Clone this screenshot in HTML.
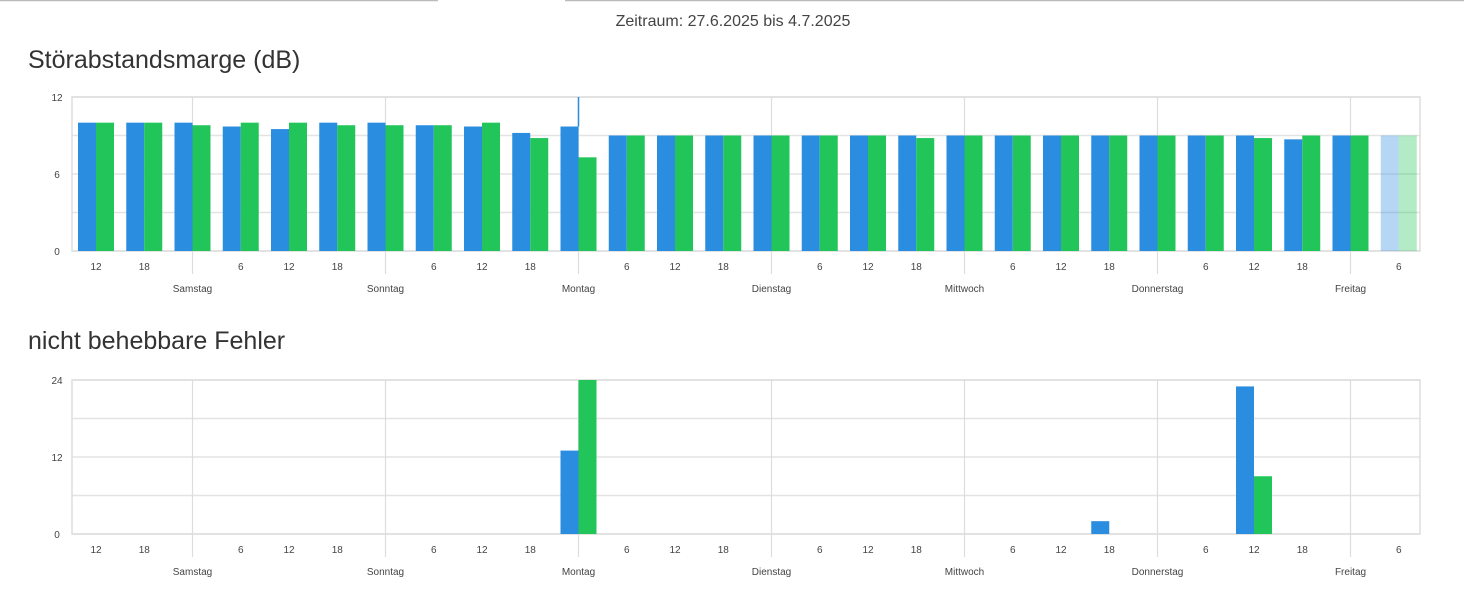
<!DOCTYPE html>
<html><head><meta charset="utf-8">
<style>
html,body{margin:0;padding:0;background:#fff;width:1464px;height:594px;overflow:hidden;font-family:"Liberation Sans",sans-serif;}
</style></head>
<body>
<svg id="svg" width="1464" height="594" xmlns="http://www.w3.org/2000/svg">
<line x1="0" y1="0.5" x2="438" y2="0.5" stroke="#bbb" stroke-width="1.5"/>
<line x1="565" y1="0.5" x2="1464" y2="0.5" stroke="#bbb" stroke-width="1.5"/>
<text x="733" y="26" text-anchor="middle" font-size="16" fill="#444">Zeitraum: 27.6.2025 bis 4.7.2025</text>
<text x="28" y="68" font-size="25" fill="#333">Störabstandsmarge (dB)</text>
<text x="28" y="349" font-size="25" fill="#333">nicht behebbare Fehler</text>
<g id="c1"></g>
<g id="c2"></g>
</svg>
<script>
// hours relative to Saturday 00:00
const hours = [-12,-6,0,6,12,18,24,30,36,42,48,54,60,66,72,78,84,90,96,102,108,114,120,126,132,138,144,150];
const snrDown = [10,10,10,9.7,9.5,10,10,9.8,9.7,9.2,9.7,9,9,9,9,9,9,9,9,9,9,9,9,9,9,8.7,9,9];
const snrUp = [10,10,9.8,10,10,9.8,9.8,9.8,10,8.8,7.3,9,9,9,9,9,9,8.8,9,9,9,9,9,9,8.8,9,9,9];
const errHours = [48,114,132];
const errDown = [13,2,23];
const errUp = [24,0,9];
const dayNames = ["Samstag","Sonntag","Montag","Dienstag","Mittwoch","Donnerstag","Freitag"];
const snrTicks = [0,6,12];
const errTicks = [0,12,24];
const NS="http://www.w3.org/2000/svg";
const L=72,R=1420;
function xOf(h){return 192.5+h*193/24;}
function mk(p,tag,a){const e=document.createElementNS(NS,tag);for(const k in a)e.setAttribute(k,a[k]);p.appendChild(e);return e;}
function chart(g,top,bot,max,ticks,hs,dn,up,fadeLast,pfx){
  const y=v=>bot-(v/max)*(bot-top);
  for(let i=0;i<=4;i++){const v=max*i/4;const l=mk(g,'line',{x1:L,x2:R,y1:y(v),y2:y(v),stroke:'#e3e3e3','stroke-width':1.5});
    
    }
  const fr=mk(g,'rect',{x:L,y:top,width:R-L,height:bot-top,fill:'none',stroke:'#ddd','stroke-width':1.5});
  
  
  ticks.forEach(t=>{const tx=mk(g,'text',{x:57,y:y(t)+4,'font-size':10,fill:'#444','text-anchor':'middle'});tx.textContent=t;
    
    });
  for(let d=0;d<7;d++){const x=xOf(d*24);
    const l=mk(g,'line',{x1:x,x2:x,y1:top,y2:bot+23,stroke:'#ddd','stroke-width':1.2});
    
    
    const t=mk(g,'text',{x:x,y:bot+41,'font-size':10,fill:'#444','text-anchor':'middle'});t.textContent=dayNames[d];
    
    }
  hours.forEach(h=>{const hr=((h%24)+24)%24;if(hr===0)return;const x=xOf(h);
    const t=mk(g,'text',{x:x,y:bot+19,'font-size':10,fill:'#444','text-anchor':'middle'});t.textContent=hr;
    
    });
  hs.forEach((h,i)=>{const x=xOf(h);const op=(fadeLast&&i===hs.length-1)?0.35:1;
    if(dn[i]>0){const b=mk(g,'rect',{x:x-18,y:y(dn[i]),width:18,height:bot-y(dn[i]),fill:'#2a8de0',opacity:op});
      
      }
    if(up[i]>0){const b=mk(g,'rect',{x:x,y:y(up[i]),width:18,height:bot-y(up[i]),fill:'#22c55a',opacity:op});
      
      }
  });
  return y;
}
const y1=chart(document.getElementById('c1'),97,251,12,snrTicks,hours,snrDown,snrUp,true,'snr');
const cur=mk(document.getElementById('c1'),'line',{x1:xOf(48),x2:xOf(48),y1:97,y2:y1(snrDown[10]),stroke:'#2a8de0','stroke-width':1.5});


chart(document.getElementById('c2'),380,534,24,errTicks,errHours,errDown,errUp,false,'errors');
</script>
</body></html>
